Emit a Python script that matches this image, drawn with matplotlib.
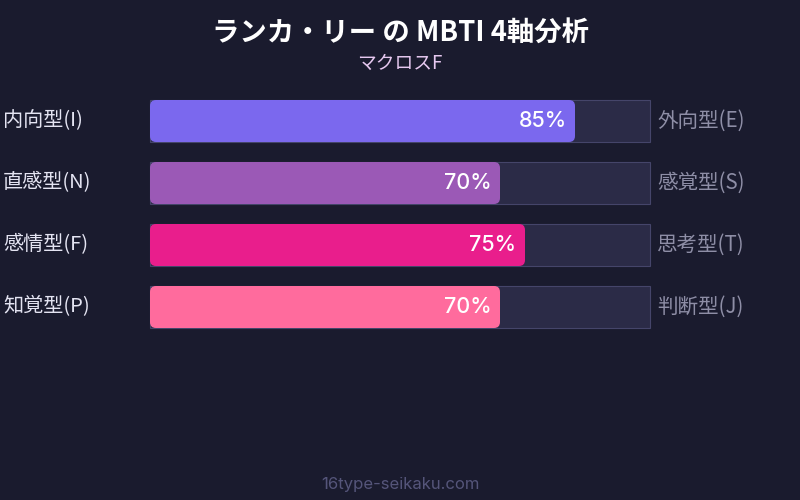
import matplotlib
matplotlib.use("Agg")
import matplotlib.pyplot as plt
from matplotlib.patches import FancyBboxPatch, Rectangle

plt.rcParams["font.family"] = ["Noto Sans CJK JP", "DejaVu Sans"]

# data
left_labels = ["内向型(I)", "直感型(N)", "感情型(F)", "知覚型(P)"]
right_labels = ["外向型(E)", "感覚型(S)", "思考型(T)", "判断型(J)"]
percents = [85, 70, 75, 70]
bar_colors = ["#7b68ee", "#9b59b6", "#e91e8c", "#ff6b9d"]

title = "ランカ・リー の MBTI 4軸分析"
subtitle = "マクロスF"
footer = "16type-seikaku.com"

BG = "#1a1b2e"
TRACK = "#2b2b47"
TRACK_EDGE = "#45456a"

W, H = 800, 500
fig = plt.figure(figsize=(8, 5), dpi=100, facecolor=BG)

# bar area: x 150..650 px, y 100..328 px
ax = fig.add_axes([150 / W, 1 - 328 / H, 500 / W, 228 / H])
ax.set_facecolor("none")
bar_h = 42 / 62
ax.set_xlim(0, 100)
ax.set_ylim(len(percents) - 1 + bar_h / 2, -bar_h / 2)
ax.axis("off")

px_x = 500 / 100   # px per x unit
px_y = 62          # px per y unit
radius = 6 / px_x
aspect = px_x / px_y

for i, (v, c) in enumerate(zip(percents, bar_colors)):
    y0 = i - bar_h / 2
    ax.add_patch(Rectangle((0, y0), 100, bar_h, facecolor=TRACK,
                           edgecolor=TRACK_EDGE, linewidth=0.8, clip_on=False))
    ax.add_patch(FancyBboxPatch((0, y0), v, bar_h,
                                boxstyle=f"round,pad=0,rounding_size={radius}",
                                mutation_aspect=aspect,
                                facecolor=c, edgecolor="none", clip_on=False))
    ax.text(v - 1.7, i, f"{v}%", color="white", fontsize=15.5, fontweight="medium",
            ha="right", va="center", family=["Inter", "DejaVu Sans"])
    ax.text(-29.4, i, left_labels[i], color="#e4e4f2", fontsize=14.5,
            ha="left", va="center")
    ax.text(101.4, i, right_labels[i], color="#8e8ea6", fontsize=14.8,
            ha="left", va="center")

fig.text(0.5, 1 - 33 / H, title, color="white", fontsize=19.7, fontweight="bold",
         ha="center", va="center")
fig.text(0.5, 1 - 63 / H, subtitle, color="#e6c8f0", fontsize=13.5,
         ha="center", va="center")
fig.text(0.5, 1 - 485 / H, footer, color="#55557a", fontsize=12,
         ha="center", va="center", family=["Inter", "DejaVu Sans"])

fig.savefig("out.png", dpi=100, facecolor=BG)
